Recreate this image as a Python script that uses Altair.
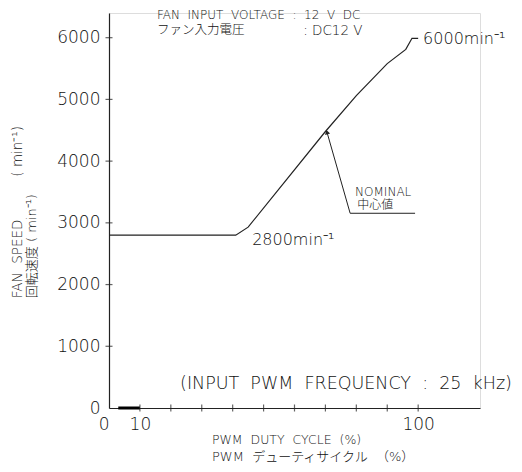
import altair as alt
import pandas as pd

FONT = "DejaVu Sans, Noto Sans CJK JP"
INK = "#111111"

# curve data
duty = [0, 41, 45, 70, 80, 90, 96, 98, 100]
speed = [2800, 2800, 2930, 4480, 5060, 5580, 5810, 5990, 5990]

# ticks / labels
x_ticks = [10, 20, 30, 40, 50, 60, 70, 80, 90, 100]
x_labels = [0, 10, 100]
y_ticks = [0, 1000, 2000, 3000, 4000, 5000, 6000]

# stopped segment on baseline
stop_from = [3]
stop_to = [10]

# nominal leader (duty, speed)
lead_duty = [70.5, 78, 99]
lead_speed = [4470, 3155, 3155]

curve = pd.DataFrame({"duty": duty, "speed": speed, "i": range(len(duty))})
xt = pd.DataFrame({"duty": x_ticks, "speed": [0] * len(x_ticks)})
yt = pd.DataFrame({"speed": y_ticks[1:], "duty": [0] * (len(y_ticks) - 1)})
stop = pd.DataFrame({"a": stop_from, "b": stop_to, "speed": [0]})
lead = pd.DataFrame({"duty": lead_duty, "speed": lead_speed, "i": range(3)})

xs = alt.Scale(domain=[0, 120], nice=False, zero=False)
ys = alt.Scale(domain=[0, 6400], nice=False, zero=False)

X = alt.X("duty:Q", scale=xs, axis=alt.Axis(
    values=x_labels, ticks=False, grid=False, title=None, format="d",
    labelFont=FONT, labelFontSize=17, labelFontWeight=200, labelColor=INK, labelPadding=8,
    labelAlign={"condition": {"test": "datum.value == 0", "value": "right"}, "value": "center"},
    domainColor="#222222", domainWidth=1.2, labelFlush=False))
Y = alt.Y("speed:Q", scale=ys, axis=alt.Axis(
    values=y_ticks, ticks=False, grid=False, title=None, format="d",
    labelFont=FONT, labelFontSize=17, labelFontWeight=200, labelColor=INK, labelPadding=9,
    domainColor="#222222", domainWidth=1.2))

line = alt.Chart(curve).mark_line(color="#222222", strokeWidth=1.2).encode(
    x=X, y=Y, order="i:Q")

stop_rule = alt.Chart(stop).mark_rule(color="black", strokeWidth=3).encode(
    x=alt.X("a:Q", scale=xs), x2="b:Q", y=alt.Y("speed:Q", scale=ys))

xtick = alt.Chart(xt).mark_tick(orient="vertical", size=7, thickness=1.2, color="#222222").encode(
    x=alt.X("duty:Q", scale=xs), y=alt.Y("speed:Q", scale=ys))
ytick = alt.Chart(yt).mark_tick(orient="horizontal", size=7, thickness=1.2, color="#222222").encode(
    x=alt.X("duty:Q", scale=xs), y=alt.Y("speed:Q", scale=ys))

leader = alt.Chart(lead).mark_line(color="#222222", strokeWidth=1).encode(
    x=alt.X("duty:Q", scale=xs), y=alt.Y("speed:Q", scale=ys), order="i:Q")
arrow = alt.Chart(lead.iloc[[0]]).mark_point(
    shape="triangle-up", filled=True, color="#222222", size=28, angle=344, opacity=1).encode(
    x=alt.X("duty:Q", scale=xs), y=alt.Y("speed:Q", scale=ys))


def label(text, d, s, size, angle=0, align="left"):
    df = pd.DataFrame({"t": [text], "duty": [d], "speed": [s]})
    return alt.Chart(df).mark_text(
        font=FONT, fontSize=size, fontWeight=200, color=INK, align=align, baseline="middle",
        angle=angle).encode(
        x=alt.X("duty:Q", scale=xs), y=alt.Y("speed:Q", scale=ys), text="t:N")


nb = "\u00a0"
sp = " " + nb


def wide(s):
    return s.replace(" ", sp)


texts = [
    label(wide("FAN INPUT VOLTAGE : 12 V DC"), 15.5, 6375, 12),
    label("ファン入力電圧", 15.5, 6120, 12.5),
    label(": DC12 V", 62.8, 6115, 13.5),
    label("6000min⁻¹", 101.6, 5985, 16),
    label("2800min⁻¹", 46.3, 2717, 16),
    label("NOMINAL", 79.6, 3494, 12),
    label("中心値", 80.3, 3283, 12),
    label(wide("(INPUT PWM FREQUENCY : 25 kHz)"), 23, 388, 17.5),
    label(wide("PWM DUTY CYCLE (%)"), 33.3, -518, 12.5),
    label(wide("PWM デューティサイクル （%）"), 33.3, -793, 13),
    label(wide("FAN SPEED") + nb * 10 + "( min⁻¹)", -29.4, 1779, 13.5, angle=270),
    label("回転速度 ( min⁻¹)", -24.9, 1779, 13, angle=270),
]

chart = alt.layer(line, stop_rule, xtick, ytick, leader, arrow, *texts).properties(
    width=371, height=395,
    autosize=alt.AutoSizeParams(type="none"),
    padding={"left": 101, "top": 5, "right": 34, "bottom": 56},
).configure_view(stroke=None).configure(background="white")

chart.save("out.html", embed_options={"renderer": "svg", "actions": False})
